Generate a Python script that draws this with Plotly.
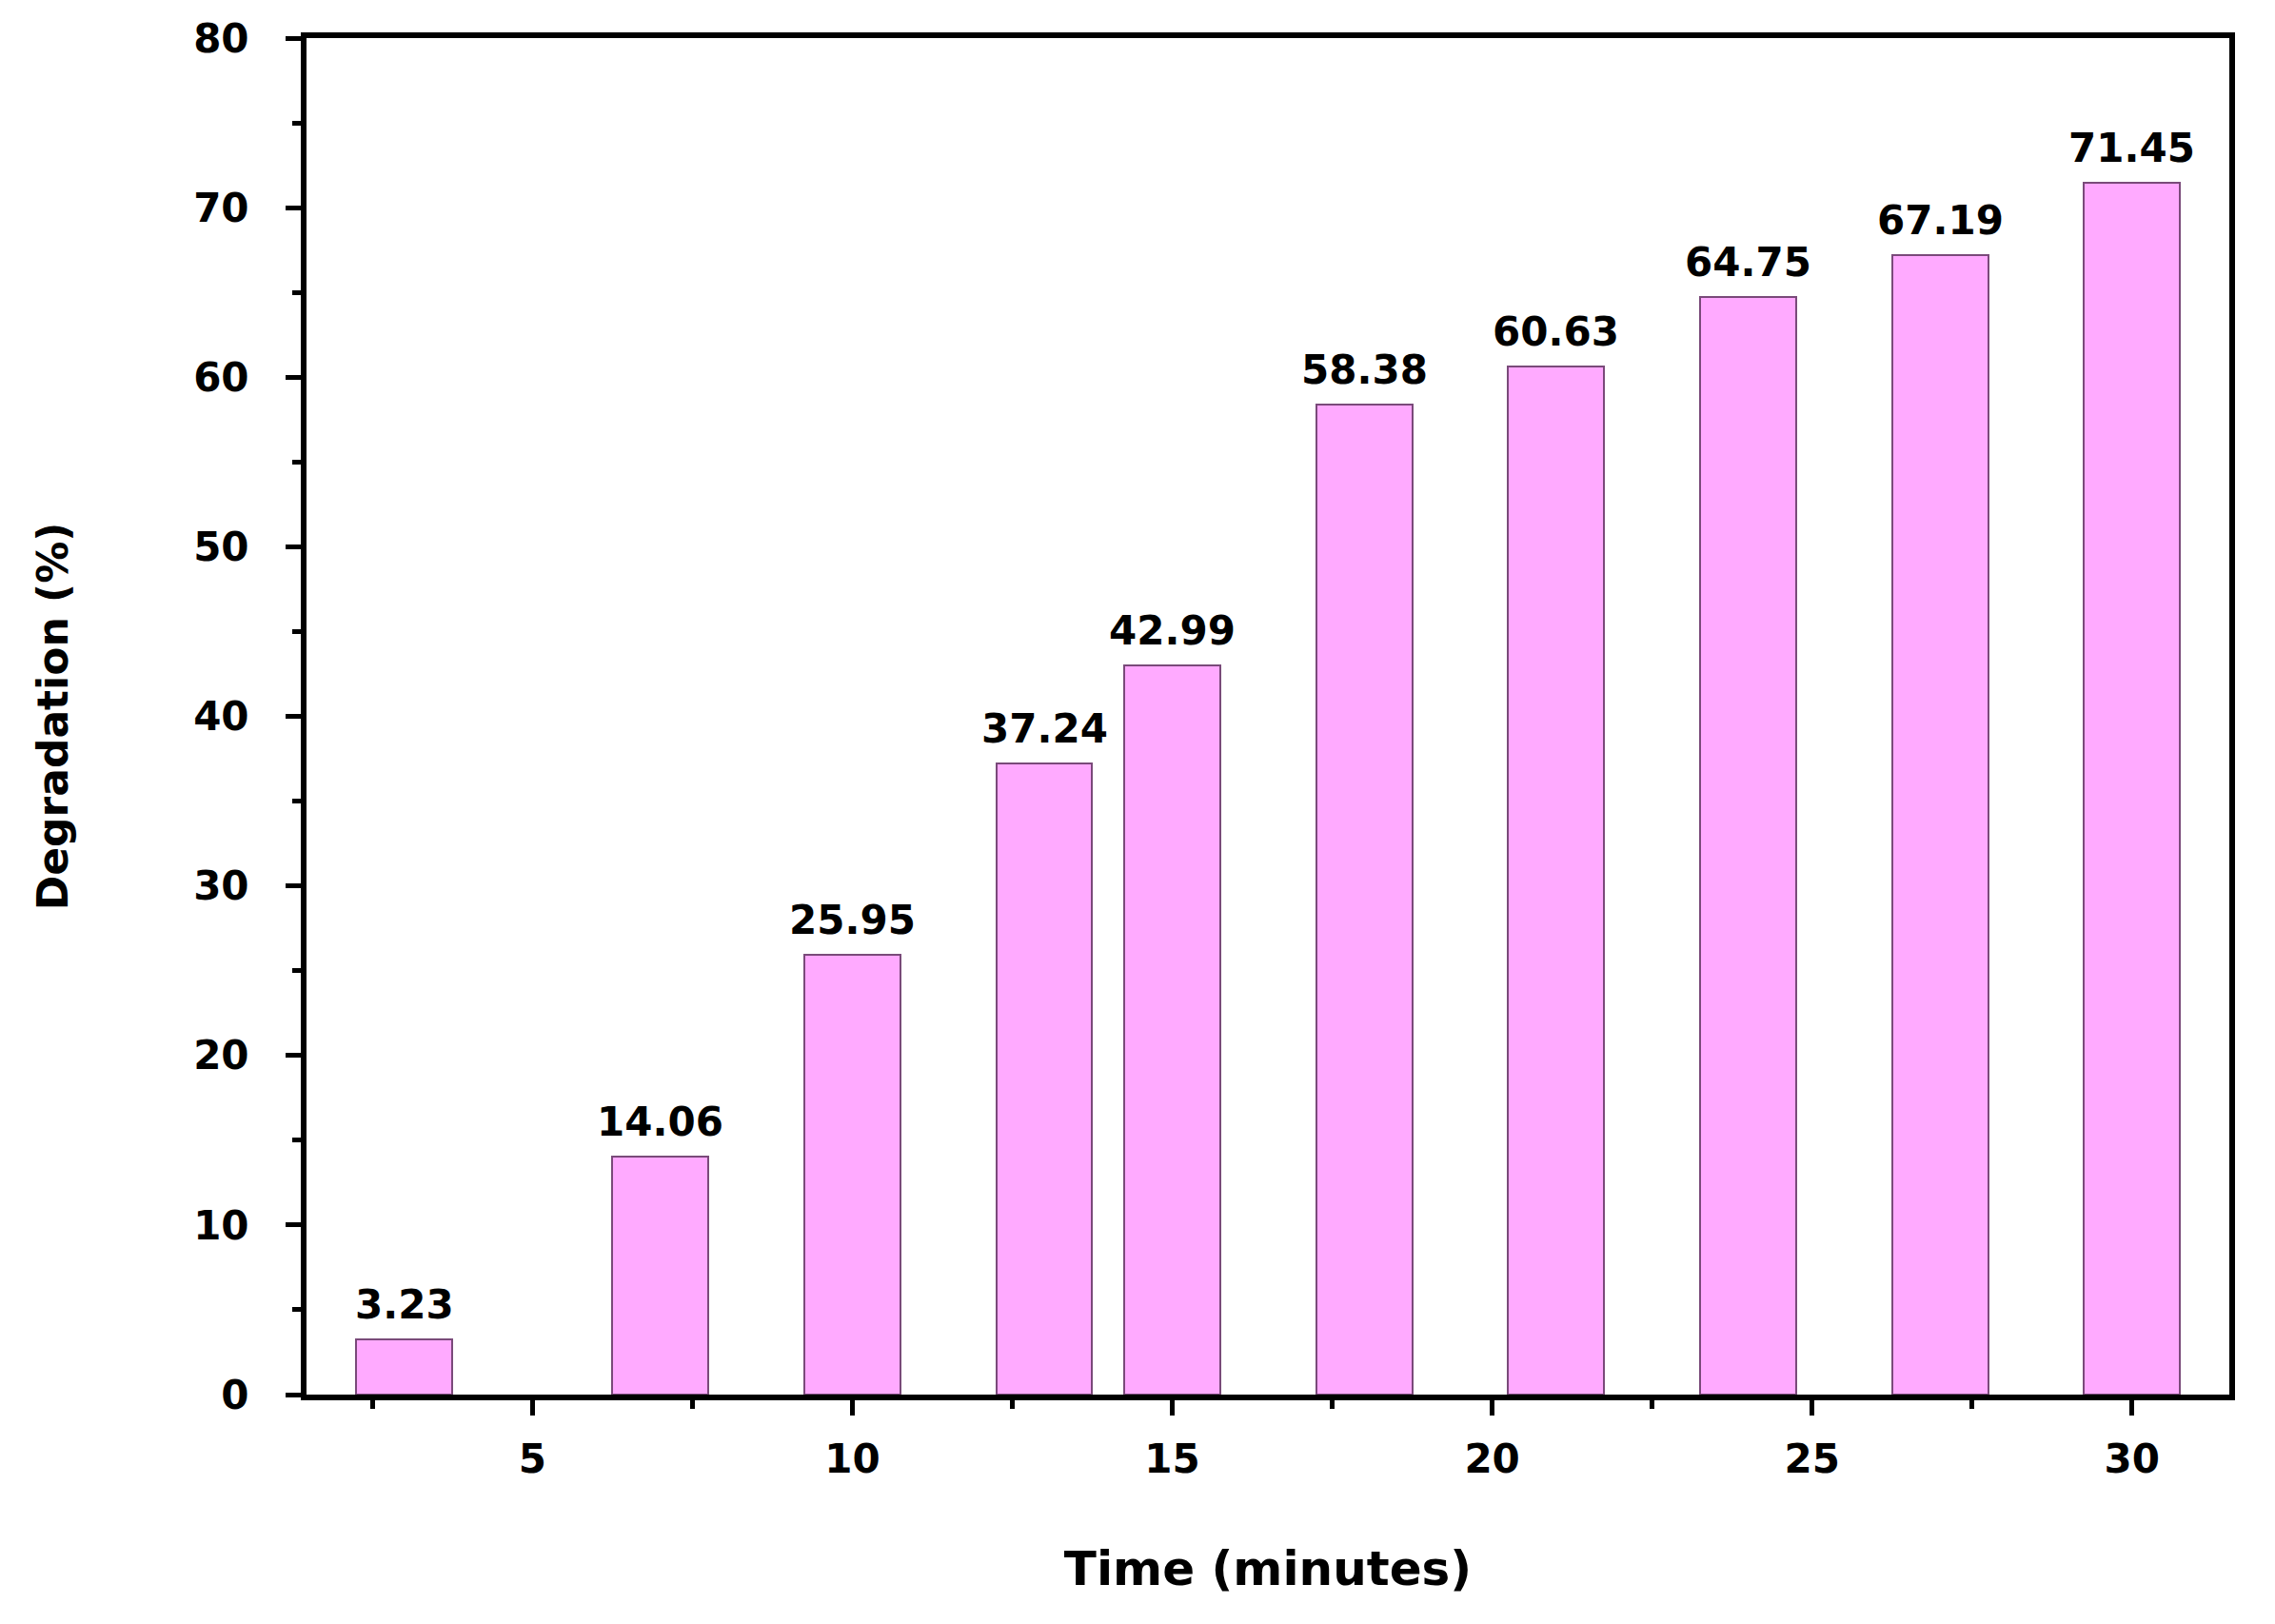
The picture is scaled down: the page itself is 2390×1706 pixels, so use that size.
import plotly.graph_objects as go

time_min = [3, 7, 10, 13, 15, 18, 21, 24, 27, 30]
degradation = [3.23, 14.06, 25.95, 37.24, 42.99, 58.38, 60.63, 64.75, 67.19, 71.45]
x_ticks = [5, 10, 15, 20, 25, 30]
x_minor = [2.5, 7.5, 12.5, 17.5, 22.5, 27.5]
y_ticks = [0, 10, 20, 30, 40, 50, 60, 70, 80]

FONT = "DejaVu Sans, Liberation Sans, Arial, sans-serif"

fig = go.Figure()
fig.add_trace(go.Bar(
    x=time_min, y=degradation, width=1.5,
    marker=dict(color="#FFAAFF", line=dict(color="#7A4A7A", width=2)),
    hoverinfo="x+y",
))

for xv, yv in zip(time_min, degradation):
    fig.add_annotation(
        x=xv, y=yv, text=f"{yv:.2f}", showarrow=False,
        xanchor="center", yanchor="bottom", yshift=10,
        font=dict(family=FONT, size=42, color="black", weight="bold"),
    )

axis_common = dict(
    showgrid=False, zeroline=False, showline=True, linecolor="black", linewidth=6,
    mirror=True, ticks="outside", tickcolor="black", tickwidth=5, ticklen=16,
    tickfont=dict(family=FONT, size=42, color="black", weight="bold"),
    automargin=False,
)

fig.update_xaxes(
    range=[1.47, 31.52], tickvals=x_ticks,
    minor=dict(tickvals=x_minor, ticks="outside", ticklen=9, tickwidth=5, tickcolor="black"),
    title=dict(text="Time (minutes)", font=dict(family=FONT, size=50, color="black", weight="bold"),
               standoff=76),
    ticklabelstandoff=10,
    **axis_common,
)
fig.update_yaxes(
    range=[0, 80], tickvals=y_ticks,
    minor=dict(dtick=5, ticks="outside", ticklen=9, tickwidth=5, tickcolor="black"),
    title=dict(text="Degradation (%)", font=dict(family=FONT, size=44, color="black", weight="bold"),
               standoff=120),
    ticklabelstandoff=30,
    **axis_common,
)

fig.update_layout(
    width=2390, height=1706,
    margin=dict(l=314, r=56, t=32, b=249),
    plot_bgcolor="white", paper_bgcolor="white",
    showlegend=False, bargap=0,
)

fig.write_html("out.html")
